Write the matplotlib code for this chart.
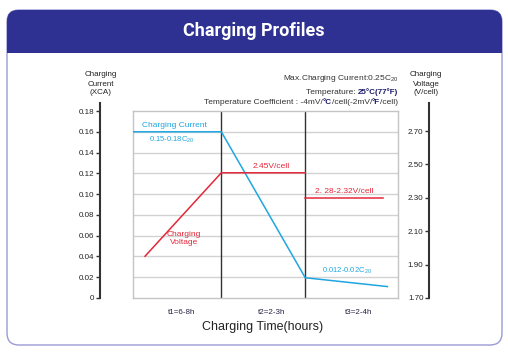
import matplotlib
matplotlib.use("Agg")
import matplotlib.pyplot as plt
from matplotlib.patches import FancyBboxPatch, Rectangle

# ---- data ----
stage_edges = [0, 1.0, 1.95, 3.0]
stage_labels = ["t1=6-8h", "t2=2-3h", "t3=2-4h"]

current_x = [0, 1.0, 1.95, 2.88]
current_y = [0.16, 0.16, 0.0195, 0.011]

voltage1_x = [0.136, 1.0, 1.95]
voltage1_y = [1.95, 2.45, 2.45]
voltage2_x = [1.95, 2.83]
voltage2_y = [2.30, 2.30]

current_ticks = [0, 0.02, 0.04, 0.06, 0.08, 0.10, 0.12, 0.14, 0.16, 0.18]
current_ticklabels = ["0", "0.02", "0.04", "0.06", "0.08", "0.10", "0.12", "0.14", "0.16", "0.18"]
voltage_ticks = [1.70, 1.90, 2.10, 2.30, 2.50, 2.70]

BLUE = "#1fa6e0"
RED = "#e4283a"
NAVY = "#2e3192"
NARROW = ["Liberation Sans Narrow", "Liberation Sans", "DejaVu Sans"]
SANS = ["Liberation Sans", "DejaVu Sans"]

plt.rcParams["mathtext.fontset"] = "custom"
plt.rcParams["mathtext.rm"] = "Liberation Sans"

W, H = 508, 353
fig = plt.figure(figsize=(W / 100, H / 100), dpi=100)

# background / card, pixel coordinates
bg = fig.add_axes([0, 0, 1, 1])
bg.set_xlim(0, W)
bg.set_ylim(H, 0)
bg.axis("off")
bg.add_patch(FancyBboxPatch((7, 10), 495, 335, boxstyle="round,pad=0,rounding_size=12",
                            facecolor="white", edgecolor="#9a9ad8", lw=1.0))
bg.add_patch(FancyBboxPatch((7, 10), 495, 43, boxstyle="round,pad=0,rounding_size=11",
                            facecolor=NAVY, edgecolor="none"))
bg.add_patch(Rectangle((7, 35), 495, 18, facecolor=NAVY, edgecolor="none"))
bg.text(254, 31.5, "Charging Profiles", color="white", fontsize=13, fontweight="bold",
        family=["Roboto", "DejaVu Sans"], ha="center", va="center")


def px_to_fig(x0, y_top, x1, y_bot):
    return [x0 / W, 1 - y_bot / H, (x1 - x0) / W, (y_bot - y_top) / H]


# main plot box
ax = fig.add_axes(px_to_fig(133, 111, 398, 298))
ax.set_xlim(0, 3)
ax.set_ylim(0, 0.18)
ax.set_xticks([])
ax.set_yticks([])
for s in ax.spines.values():
    s.set_color("#c4c4c4")
    s.set_linewidth(1.0)
for t in current_ticks[1:-1]:
    ax.axhline(t, color="#d2d2d2", lw=1.0, zorder=1)
for e in stage_edges[1:-1]:
    ax.axvline(e, color="#333333", lw=1.0, zorder=2)
ax.plot(current_x, current_y, color=BLUE, lw=1.1, zorder=3)

axv = ax.twinx()
axv.set_ylim(1.70, 2.82)
axv.set_yticks([])
axv.axis("off")
axv.plot(voltage1_x, voltage1_y, color=RED, lw=1.1, zorder=3)
axv.plot(voltage2_x, voltage2_y, color=RED, lw=1.1, zorder=3)

# in-plot labels
ax.text(0.47, 0.1625, "Charging Current", color=BLUE, fontsize=6, family=NARROW, ha="center", va="bottom")
ax.text(0.44, 0.1575, "0.15-0.18C$_{20}$", color=BLUE, fontsize=5.5, family=NARROW, ha="center", va="top")
ax.text(0.58, 0.057, "Charging\nVoltage", color=RED, fontsize=6, family=NARROW, ha="center",
        va="center", linespacing=1.25)
ax.text(2.42, 0.0215, "0.012-0.02C$_{20}$", color=BLUE, fontsize=5.5, family=NARROW, ha="center", va="bottom")
axv.text(1.57, 2.465, "2.45V/cell", color=RED, fontsize=6, family=NARROW, ha="center", va="bottom")
axv.text(2.39, 2.315, "2. 28-2.32V/cell", color=RED, fontsize=6, family=NARROW, ha="center", va="bottom")

# stage labels
label_x = [182, 272, 359]
for lx, lab in zip(label_x, stage_labels):
    bg.text(lx, 313, lab, color="#222244", fontsize=5.8, family=NARROW, ha="center", va="center")
bg.text(263, 327, "Charging Time(hours)", color="#222222", fontsize=9, family=SANS,
        ha="center", va="center")

# left current axis
axl = fig.add_axes(px_to_fig(100, 103, 101, 298))
axl.set_ylim(0, 0.18 * 195 / 187)
axl.set_xticks([])
for k in ["top", "right", "bottom"]:
    axl.spines[k].set_visible(False)
axl.spines["left"].set_color("#333333")
axl.spines["left"].set_linewidth(1.5)
axl.set_yticks(current_ticks)
axl.set_yticklabels(current_ticklabels, family=NARROW, fontsize=5.8, color="#222222")
axl.tick_params(axis="y", length=3, width=1, color="#333333", pad=1)
axl.patch.set_alpha(0)

# right voltage axis
axr = fig.add_axes(px_to_fig(429, 103, 430, 298))
axr.set_ylim(1.70, 2.70 + 28 / 167)
axr.set_xticks([])
for k in ["top", "right", "bottom"]:
    axr.spines[k].set_visible(False)
axr.spines["left"].set_color("#333333")
axr.spines["left"].set_linewidth(1.5)
axr.set_yticks(voltage_ticks)
axr.set_yticklabels(["%.2f" % v for v in voltage_ticks], family=NARROW, fontsize=5.8, color="#222222")
axr.tick_params(axis="y", length=3, width=1, color="#333333", pad=1)
axr.patch.set_alpha(0)

bg.text(101, 84, "Charging\nCurrent\n(XCA)", fontsize=5.8, family=NARROW, color="#222222",
        ha="center", va="center", linespacing=1.4)
bg.text(426, 84, "Charging\nVoltage\n(V/cell)", fontsize=5.8, family=NARROW, color="#222222",
        ha="center", va="center", linespacing=1.4)

# note lines, right aligned with mixed styles
renderer = fig.canvas.get_renderer()


def rich_line(pieces, x_right, y):
    x = x_right
    for txt, kw in reversed(pieces):
        t = bg.text(x, y, txt, ha="right", va="center", fontsize=kw.get("size", 6),
                    family=SANS, color=kw.get("color", "#333333"),
                    fontweight=kw.get("weight", "normal"))
        bb = t.get_window_extent(renderer)
        x -= bb.width


plain = {}
bold = {"color": "#1a1a6a", "weight": "bold", "size": 5.8}
rich_line([("Max.Charging Current:0.25C$_{20}$", plain)], 398, 79)
rich_line([("Temperature: ", plain), ("25°C(77°F)", bold)], 398, 92)
rich_line([("Temperature Coefficient : -4mV/", plain), ("°C", bold), ("/cell(-2mV/", plain),
           ("°F", bold), ("/cell)", plain)], 398, 103)

fig.savefig("out.png", dpi=100)
